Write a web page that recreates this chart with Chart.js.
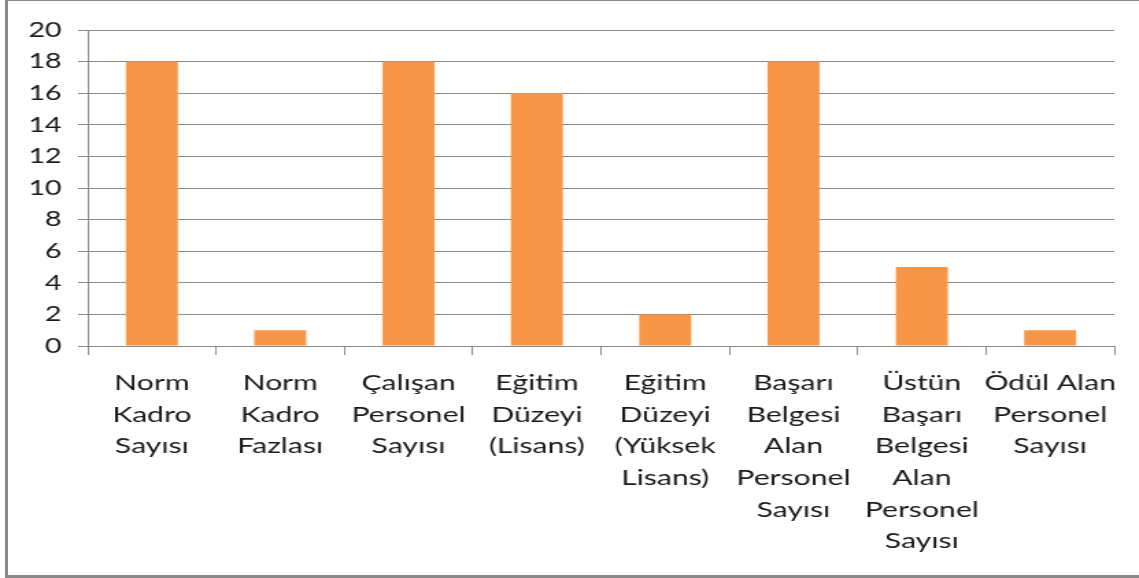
<!DOCTYPE html>
<html>
<head>
<meta charset="utf-8">
<script src="https://cdn.jsdelivr.net/npm/chart.js@4"></script>
<style>
  body { margin: 0; background: #fff; overflow: hidden; }
  #frame {
    position: absolute; left: 5px; top: -1px; width: 1200px; height: 579px;
    box-sizing: border-box;
    border-left: 3px solid #8a8a8a; border-top: 2px solid #8a8a8a; border-bottom: 3px solid #8a8a8a;
    pointer-events: none;
  }
  #myChart {
    position: absolute; left: 0; top: 0;
    transform: scaleX(1.3706); transform-origin: 0 0;
  }
</style>
</head>
<body>
<canvas id="myChart" width="831" height="578"></canvas>
<div id="frame"></div>
<script>
const categories = [
    ['Norm', 'Kadro', 'Sayısı'],
    ['Norm', 'Kadro', 'Fazlası'],
    ['Çalışan', 'Personel', 'Sayısı'],
    ['Eğitim', 'Düzeyi', '(Lisans)'],
    ['Eğitim', 'Düzeyi', '(Yüksek', 'Lisans)'],
    ['Başarı', 'Belgesi', 'Alan', 'Personel', 'Sayısı'],
    ['Üstün', 'Başarı', 'Belgesi', 'Alan', 'Personel', 'Sayısı'],
    ['Ödül Alan', 'Personel', 'Sayısı'],
];
const values = [18, 1, 18, 16, 2, 18, 5, 1];
const yMin = 0;
const yMax = 20;
const yStep = 2;

const ctx = document.getElementById('myChart');
const gray = '#8a8a8a';
const textColor = '#1a1a1a';

let ch = new Chart(ctx, {
    type: 'bar',
    data: {
        labels: categories,
        datasets: [
            {
                data: values,
                backgroundColor: '#f79646',
                borderWidth: 0,
                barPercentage: 0.405,
                categoryPercentage: 1,
            },
        ]
    },
    options: {
        responsive: false,
        animation: false,
        layout: {
            padding: { left: 0, right: 18, top: 30, bottom: 0 }
        },
        plugins: {
            legend: { display: false },
            title: { display: false },
            tooltip: { enabled: false }
        },
        scales: {
            x: {
                afterFit: function (scale) { scale.height = 232; },
                grid: {
                    drawOnChartArea: false,
                    drawTicks: true,
                    tickLength: 9,
                    color: gray,
                },
                border: { display: true, color: gray },
                ticks: {
                    color: textColor,
                    padding: 12,
                    maxRotation: 0,
                    autoSkip: false,
                    font: { family: 'Lato', size: 22, lineHeight: 1.44 }
                }
            },
            y: {
                min: yMin,
                max: yMax,
                afterFit: function (scale) { scale.width = 64; },
                grid: {
                    color: gray,
                    tickLength: 7,
                },
                border: { display: true, color: gray },
                ticks: {
                    stepSize: yStep,
                    color: textColor,
                    padding: 12,
                    font: { family: 'Lato', size: 21 }
                }
            }
        }
    }
});
</script>
</body>
</html>
